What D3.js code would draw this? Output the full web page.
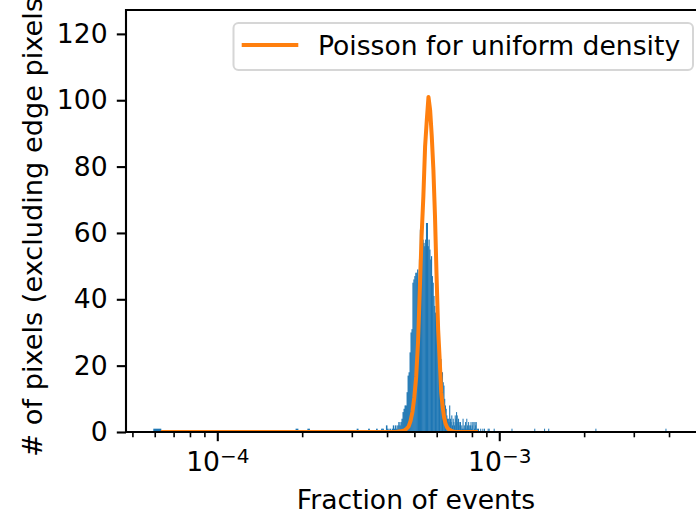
<!DOCTYPE html>
<html>
<head>
<meta charset="utf-8">
<script src="https://cdn.jsdelivr.net/npm/d3@7"></script>
<style>
  body { margin: 0; background: #fff; }
  text { font-family: "DejaVu Sans", sans-serif; }
</style>
</head>
<body>
<div id="chart"></div>
<script>

// 1. Data
// 1.1 histogram: equal-width (linear) bins, only the non-empty ones are listed

const binMin = 5.93e-5    // left edge of bin 0 (fraction of events)
const binWidth = 3.83e-6  // width of one bin

const histBins = [
  0, 34, 39, 66, 74, 80, 84, 85, 88, 89, 91, 93, 94, 95, 96, 97, 98, 99, 100,
  101, 102, 103, 104, 105, 106, 107, 108, 109, 110, 111, 112, 113, 114, 115, 116, 117, 118, 119, 120,
  121, 122, 123, 124, 125, 126, 127, 128, 129, 130, 131, 132, 133, 134, 135, 136, 137, 138, 139, 140,
  141, 142, 143, 144, 145, 146, 147, 148, 149, 150, 151, 152, 153, 154, 155, 156, 157, 158, 159, 160,
  161, 162, 163, 164, 165, 166, 167, 168, 169, 170, 171, 172, 173, 174, 175, 176, 177, 178, 179, 180,
  181, 182, 183, 184, 185, 186, 187, 188, 189, 190, 191, 192, 193, 194, 196, 197, 198, 199, 200,
  202, 204, 208, 212, 215, 222, 224, 234, 273, 332, 361, 374, 557, 999
]
const histCounts = [
  1, 1, 1, 1, 1, 1, 1, 1, 2, 1, 1, 1, 2, 1, 2, 1, 2, 3, 2,
  3, 4, 6, 7, 8, 8, 12, 17, 18, 24, 30, 31, 45, 46, 47, 48, 48, 49, 40, 52,
  61, 60, 61, 58, 57, 56, 58, 63, 63, 56, 58, 55, 52, 53, 47, 45, 41, 38, 36, 33,
  32, 28, 27, 25, 23, 22, 18, 18, 15, 14, 10, 8, 7, 5, 4, 4, 3, 8, 4, 3,
  5, 2, 4, 3, 2, 5, 4, 6, 5, 3, 4, 3, 2, 3, 1, 2, 1, 4, 1, 2,
  1, 3, 1, 4, 2, 1, 3, 2, 1, 2, 3, 1, 2, 3, 3, 1, 3, 2, 3,
  1, 1, 1, 1, 1, 1, 1, 1, 1, 1, 1, 1, 1, 1
]

// 1.2 Poisson curve, sampled at bin edges (edge index -> expected pixels)
const poissonEdges = [
  1, 97, 101, 105, 107, 109, 111, 113, 115, 117, 119, 121, 123, 125, 127, 129, 131,
  133, 135, 137, 139, 141, 143, 145, 147, 149, 151, 153, 155, 157, 159, 163, 167, 204
]
const poissonValues = [
  0, 0, 0.2, 0.5, 1.0, 1.6, 3.3, 6, 10.5, 16.6, 27, 43, 59, 71, 86, 94, 101,
  97, 89, 79, 65, 47, 31, 22, 12, 7.5, 4.3, 2.5, 1.4, 0.9, 0.6, 0.2, 0, 0
]

// 1.3 ticks and texts
const yTicks = [0, 20, 40, 60, 80, 100, 120]
const xMajorTicks = [1e-4, 1e-3]
const xMajorLabels = [["10", "\u22124"], ["10", "\u22123"]]
const xMinorTicks = [5e-5, 6e-5, 7e-5, 8e-5, 9e-5,
  2e-4, 3e-4, 4e-4, 5e-4, 6e-4, 7e-4, 8e-4, 9e-4,
  2e-3, 3e-3, 4e-3, 5e-3]
const xLabel = "Fraction of events"
const yLabel = "# of pixels (excluding edge pixels)"
const legendLabel = "Poisson for uniform density"

// 2. Dimensions
let dimensions = {
  width: 696,
  height: 516,
  margin: { top: 10, left: 126 },
  boundedWidth: 580,   // axes run past the right side of the picture
  boundedHeight: 422,
}
const fontSize = 26.6

// 3. Canvas
const wrapper = d3.select("#chart")
  .append("svg")
    .attr("width", dimensions.width)
    .attr("height", dimensions.height)
    .style("display", "block")

wrapper.append("defs").append("clipPath")
    .attr("id", "plot-clip")
  .append("rect")
    .attr("width", dimensions.boundedWidth)
    .attr("height", dimensions.boundedHeight)

const bounds = wrapper.append("g")
  .attr("transform", `translate(${dimensions.margin.left},${dimensions.margin.top})`)

// 4. Scales
const xScale = d3.scaleLog()
  .domain([4.745e-5, 5.41e-3])
  .range([0, dimensions.boundedWidth])

const yScale = d3.scaleLinear()
  .domain([0, 127.2])
  .range([dimensions.boundedHeight, 0])

// 5. Draw data
const plot = bounds.append("g").attr("clip-path", "url(#plot-clip)")

const histData = histBins.map((b, i) => ({
  x0: binMin + b * binWidth,
  x1: binMin + (b + 1) * binWidth,
  count: histCounts[i],
}))

// bars a touch wider than their bin so neighbours do not leave hairline seams
plot.append("g")
  .selectAll("rect")
  .data(histData)
  .join("rect")
    .attr("x", d => xScale(d.x0))
    .attr("width", d => Math.max(1, xScale(d.x1) - xScale(d.x0) + 0.35))
    .attr("y", d => yScale(d.count))
    .attr("height", d => yScale(0) - yScale(d.count))
    .attr("fill", "#1f77b4")

const poissonData = poissonEdges.map((e, i) => ({
  x: binMin + e * binWidth,
  y: poissonValues[i],
}))

const lineGenerator = d3.line()
  .x(d => xScale(d.x))
  .y(d => yScale(d.y))

plot.append("path")
  .attr("d", lineGenerator(poissonData))
  .attr("fill", "none")
  .attr("stroke", "#ff7f0e")
  .attr("stroke-width", 4)
  .attr("stroke-linejoin", "round")

// 6. Peripherals
// 6.1 y axis
const yAxis = bounds.append("g")
  .call(d3.axisLeft(yScale).tickValues(yTicks).tickSize(9.2).tickPadding(9.2))
yAxis.select(".domain").remove()
yAxis.selectAll("line").attr("stroke-width", 2.1)
yAxis.selectAll("text")
  .style("font-size", fontSize + "px")
  .attr("fill", "#000")

// 6.2 x axis: minor ticks, then major ticks with 10^n labels
const xMinor = bounds.append("g")
  .attr("transform", `translate(0,${dimensions.boundedHeight})`)
  .call(d3.axisBottom(xScale)
    .tickValues(xMinorTicks.filter(t => xScale(t) < dimensions.width - dimensions.margin.left - 1))
    .tickSize(5.3).tickFormat(""))
xMinor.select(".domain").remove()
xMinor.selectAll("line").attr("stroke-width", 1.6)

const xMajor = bounds.append("g")
  .attr("transform", `translate(0,${dimensions.boundedHeight})`)
  .call(d3.axisBottom(xScale).tickValues(xMajorTicks).tickSize(9.2).tickFormat(""))
xMajor.select(".domain").remove()
xMajor.selectAll("line").attr("stroke-width", 2.1)
xMajor.selectAll(".tick").append("text")
    .attr("y", 39)
    .attr("text-anchor", "middle")
    .attr("fill", "#000")
    .style("font-size", fontSize + "px")
    .each(function(d, i) {
      const t = d3.select(this)
      t.append("tspan").text(xMajorLabels[i][0])
      t.append("tspan")
        .attr("dy", -8)
        .style("font-size", "20px")
        .text(xMajorLabels[i][1])
    })

// 6.3 spines
const spines = bounds.append("g")
  .attr("fill", "none")
  .attr("stroke", "#000")
  .attr("stroke-width", 2.1)
  .attr("stroke-linecap", "square")
spines.append("path")
  .attr("d", `M${dimensions.boundedWidth},0H0V${dimensions.boundedHeight}H${dimensions.boundedWidth}`)

// 6.4 axis labels
wrapper.append("text")
  .attr("x", 416)
  .attr("y", 509)
  .attr("text-anchor", "middle")
  .style("font-size", fontSize + "px")
  .text(xLabel)

wrapper.append("text")
  .attr("transform", `translate(42,222) rotate(-90)`)
  .attr("text-anchor", "middle")
  .style("font-size", "27.2px")
  .text(yLabel)

// 6.5 legend
const legend = wrapper.append("g")
legend.append("rect")
  .attr("x", 233.5)
  .attr("y", 23)
  .attr("width", 459.5)
  .attr("height", 47)
  .attr("rx", 5)
  .attr("fill", "#fff")
  .attr("fill-opacity", 0.8)
  .attr("stroke", "#d6d6d6")
  .attr("stroke-width", 2)
legend.append("line")
  .attr("x1", 241.7).attr("x2", 298.3)
  .attr("y1", 45).attr("y2", 45)
  .attr("stroke", "#ff7f0e")
  .attr("stroke-width", 4)
legend.append("text")
  .attr("x", 318)
  .attr("y", 55)
  .style("font-size", fontSize + "px")
  .text(legendLabel)

</script>
</body>
</html>
